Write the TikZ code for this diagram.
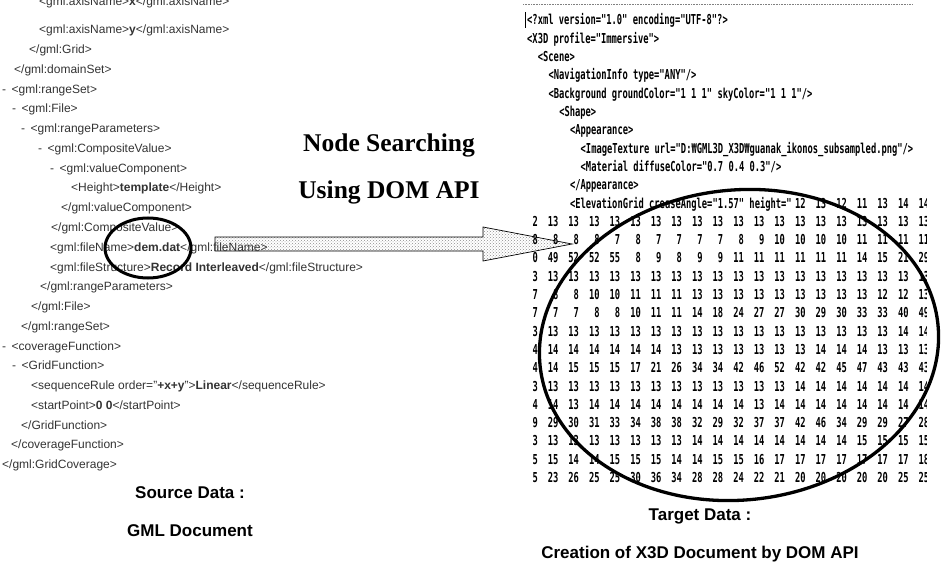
\documentclass[tikz,border=0pt]{standalone}
\usepackage{fontspec}
\setmainfont{Liberation Sans}
\newfontfamily\titlefont{Liberation Serif}
\newfontfamily\xdfont[FakeStretch=0.64]{DejaVu Sans Mono}
\usetikzlibrary{patterns}
\newcommand\fold{-\hspace{5.5pt}}

\begin{document}
\begin{tikzpicture}[x=1pt, y=-1pt]

\useasboundingbox (0,0) rectangle (941,569);

\tikzstyle{gml}=[anchor=base west, inner sep=0pt, text=black!80, font=\fontsize{12}{14}\selectfont]
\tikzstyle{x3d}=[anchor=base west, inner sep=0pt, font=\xdfont\bfseries\fontsize{13.7}{15}\selectfont]
\tikzstyle{cell}=[anchor=base east, inner sep=0pt, font=\xdfont\bfseries\fontsize{13.7}{15}\selectfont]
\tikzstyle{title}=[anchor=base, inner sep=0pt, font=\titlefont\bfseries\fontsize{25.5}{28}\selectfont]
\tikzstyle{caption}=[anchor=base, inner sep=0pt, font=\bfseries\fontsize{17}{20}\selectfont]
\tikzstyle{ring}=[line width=3.3pt]

% block arrow first, the text lies on top of it
\coordinate (tail) at (215,244);
\coordinate (tip) at (572,244);
\draw[line width=0.7pt, pattern=crosshatch dots, pattern color=black!45]
  (tail) ++(0,-7) -- (483,237) -- (483,227) -- (tip) -- (483,261)
  -- (483,251) -- (215,251) -- cycle;

% source: GML document
\node[gml] (gml0)  at (39,6)      {<gml:axisName>\textbf{x}</gml:axisName>};
\node[gml] (gml1)  at (39,34)     {<gml:axisName>\textbf{y}</gml:axisName>};
\node[gml] (gml2)  at (29,53.75)  {</gml:Grid>};
\node[gml] (gml3)  at (14,73.5)   {</gml:domainSet>};
\node[gml] (gml4)  at (2,93.25)   {\fold<gml:rangeSet>};
\node[gml] (gml5)  at (12,113)    {\fold<gml:File>};
\node[gml] (gml6)  at (21,132.75) {\fold<gml:rangeParameters>};
\node[gml] (gml7)  at (38,152.5)  {\fold<gml:CompositeValue>};
\node[gml] (gml8)  at (50,172.25) {\fold<gml:valueComponent>};
\node[gml] (gml9)  at (71,192)    {<Height>\textbf{template}</Height>};
\node[gml] (gml10) at (61,211.75) {</gml:valueComponent>};
\node[gml] (gml11) at (51,231.5)  {</gml:CompositeValue>};
\node[gml] (gml12) at (50,251.25) {<gml:fileName>\textbf{dem.dat}</gml:fileName>};
\node[gml] (gml13) at (50,271)    {<gml:fileStructure>\textbf{Record Interleaved}</gml:fileStructure>};
\node[gml] (gml14) at (40,290.75) {</gml:rangeParameters>};
\node[gml] (gml15) at (31,310.5)  {</gml:File>};
\node[gml] (gml16) at (21,330.25) {</gml:rangeSet>};
\node[gml] (gml17) at (2,350)     {\fold<coverageFunction>};
\node[gml] (gml18) at (12,369.75) {\fold<GridFunction>};
\node[gml] (gml19) at (31,389.5)  {<sequenceRule order="\textbf{+x+y}">\textbf{Linear}</sequenceRule>};
\node[gml] (gml20) at (31,409.25) {<startPoint>\textbf{0 0}</startPoint>};
\node[gml] (gml21) at (21,429)    {</GridFunction>};
\node[gml] (gml22) at (11,448.75) {</coverageFunction>};
\node[gml] (gml23) at (2,468.5)   {</gml:GridCoverage>};

\draw (389,152) node[title] (search) {Node Searching}
      (389,199) node[title] (domapi) {Using DOM API};

% target: X3D document
\draw[black!50, densely dotted, line width=0.6pt] (523,4) -- (913,4);
\draw[line width=0.6pt] (525,12) -- (525,28);

\node[x3d] (x3d0)  at (527,25)      {<?xml version="1.0" encoding="UTF-8"?>};
\node[x3d] (x3d1)  at (527,43.3)    {<X3D profile="Immersive">};
\node[x3d] (x3d2)  at (537.7,61.6)  {<Scene>};
\node[x3d] (x3d3)  at (548.4,79.9)  {<NavigationInfo type="ANY"/>};
\node[x3d] (x3d4)  at (548.4,98.2)  {<Background groundColor="1 1 1" skyColor="1 1 1"/>};
\node[x3d] (x3d5)  at (559.1,116.5) {<Shape>};
\node[x3d] (x3d6)  at (569.8,134.8) {<Appearance>};
\node[x3d] (x3d7)  at (580.5,153.1) {<ImageTexture url="D:₩GML3D\_X3D₩guanak\_ikonos\_subsampled.png"/>};
\node[x3d] (x3d8)  at (580.5,171.4) {<Material diffuseColor="0.7 0.4 0.3"/>};
\node[x3d] (x3d9)  at (569.8,189.7) {</Appearance>};
\node[x3d] (x3d10) at (569.8,208)   {<ElevationGrid creaseAngle="1.57" height="};

\begin{scope}
\clip (500,0) rectangle (926,569);
\foreach \v [count=\c from 13] in {12,13,12,11,13,14,14}
  \node[cell] (n0-\c) at (538+20.6*\c, 208) {\v};
\foreach \r/\vals in {
  1/{2,13,13,13,13,13,13,13,13,13,13,13,13,13,13,13,13,13,13,13},
  2/{8,8,8,8,7,8,7,7,7,7,8,9,10,10,10,10,11,11,11,11},
  3/{0,49,52,52,55,8,9,8,9,9,11,11,11,11,11,11,14,15,21,29},
  4/{3,13,13,13,13,13,13,13,13,13,13,13,13,13,13,13,13,13,13,13},
  5/{7,8,8,10,10,11,11,11,13,13,13,13,13,13,13,13,13,12,12,13},
  6/{7,7,7,8,8,10,11,11,14,18,24,27,27,30,29,30,33,33,40,49},
  7/{3,13,13,13,13,13,13,13,13,13,13,13,13,13,13,13,13,13,14,14},
  8/{4,14,14,14,14,14,14,13,13,13,13,13,13,13,14,14,14,13,13,13},
  9/{4,14,15,15,15,17,21,26,34,34,42,46,52,42,42,45,47,43,43,43},
  10/{3,13,13,13,13,13,13,13,13,13,13,13,13,14,14,14,14,14,14,14},
  11/{4,14,13,14,14,14,14,14,14,14,14,13,14,14,14,14,14,14,14,14},
  12/{9,29,30,31,33,34,38,38,32,29,32,37,37,42,46,34,29,29,27,28},
  13/{3,13,13,13,13,13,13,13,14,14,14,14,14,14,14,14,15,15,15,15},
  14/{5,15,14,14,15,15,15,14,14,15,15,16,17,17,17,17,17,17,17,18},
  15/{5,23,26,25,25,30,36,34,28,28,24,22,21,20,20,20,20,20,25,25}}
  \foreach \v [count=\c from 0] in \vals
    \node[cell] (n\r-\c) at (538+20.6*\c, 208+18.3*\r) {\v};
\end{scope}

% the two marks
\coordinate (demc) at (148,248);
\draw[ring, line width=3pt] (demc) ellipse [x radius=43, y radius=30];
\coordinate (gridc) at (739,345);
\draw[ring, rotate around={6:(gridc)}] (gridc) ellipse [x radius=200, y radius=155];

\draw (190,498) node[caption] (src)  {Source Data :}
      (190,536) node[caption] (gmldoc) {GML Document}
      (700,520) node[caption] (tgt)  {Target Data :}
      (700,558) node[caption] (x3ddoc) {Creation of X3D Document by DOM API};

\end{tikzpicture}
\end{document}
